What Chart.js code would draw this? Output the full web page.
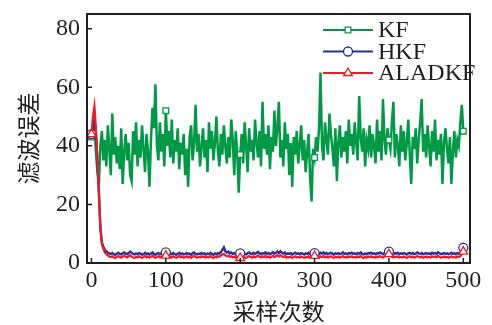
<!DOCTYPE html>
<html>
<head>
<meta charset="utf-8">
<script src="https://cdn.jsdelivr.net/npm/chart.js@4"></script>
<style>
  html, body { margin: 0; padding: 0; background: #fff; }
  #wrap { width: 492px; height: 325px; }
</style>
</head>
<body>
<div id="wrap"><canvas id="errChart"></canvas></div>
<script>
// sample index (every 2nd sample, 0..500)
const sampleIdx = Array.from({ length: 251 }, (_, i) => i * 2);
const xTicks = [0, 100, 200, 300, 400, 500];
const yTicks = [0, 20, 40, 60, 80];

const kfErr = [
  43, 44, 48, 38, 31, 27, 40, 45, 35, 42, 33, 47, 39, 30, 51, 37, 43, 34, 40, 32, 46, 27, 38, 44, 35,
  41, 30, 28, 45, 37, 48, 33, 42, 36, 47, 39, 31, 44, 38, 26, 42, 53, 46, 61, 40, 35, 48, 38, 44, 33,
  52, 40, 45, 36, 49, 34, 42, 38, 46, 32, 41, 37, 44, 30, 39, 26, 43, 47, 35, 41, 54, 38, 44, 33, 40,
  46, 36, 42, 31, 48, 39, 45, 35, 41, 50, 38, 33, 44, 37, 47, 40, 34, 43, 36, 49, 42, 30, 45, 38, 24,
  37, 44, 34, 48, 40, 31, 46, 38, 42, 35, 49, 41, 36, 45, 33, 55, 39, 44, 37, 47, 32, 43, 38, 52, 40,
  46, 55, 36, 42, 33, 48, 39, 44, 30, 41, 26, 43, 37, 45, 34, 40, 47, 35, 42, 31, 38, 44, 29, 21, 39,
  36, 43, 38, 46, 65, 40, 35, 48, 42, 37, 51, 44, 39, 33, 46, 28, 41, 47, 36, 43, 38, 45, 34, 49, 40,
  44, 37, 48, 41, 35, 57, 43, 38, 46, 33, 42, 39, 47, 36, 44, 40, 34, 49, 38, 45, 35, 56, 42, 37, 46,
  42, 39, 48, 55, 36, 44, 40, 33, 47, 38, 45, 35, 41, 49, 37, 27, 43, 39, 46, 34, 42, 48, 56, 38, 44,
  36, 47, 40, 33, 45, 38, 49, 35, 42, 37, 44, 27, 41, 46, 39, 34, 43, 27, 38, 45, 36, 42, 40, 48, 54,
  45
];

const hkfErr = [
  44, 47, 49, 44, 35, 24, 12, 7, 5.5, 4.5, 4, 3.6, 3.3, 3.1, 3.4, 3.0, 2.8, 3.2, 3.5, 3.1, 2.9, 3.3, 3.6, 3.2, 3.0,
  3.4, 3.9, 3.5, 3.1, 2.9, 3.3, 3.0, 3.4, 3.2, 2.8, 3.1, 3.5, 3.0, 3.3, 2.9, 3.2, 3.6, 3.1, 2.8, 3.2, 3.4, 3.0, 3.3, 3.1, 3.5,
  3.6, 3.2, 2.9, 3.3, 3.0, 3.4, 3.1, 2.8, 3.2, 3.5, 3.0, 3.3, 2.9, 3.1, 3.4, 3.0, 3.2, 2.8, 3.3, 3.6, 3.1, 2.9, 3.2, 3.0, 3.4,
  3.1, 3.3, 2.9, 3.2, 3.0, 3.5, 3.1, 2.8, 3.3, 3.0, 3.4, 3.2, 3.7, 4.5, 5.3, 4.0, 3.6, 3.9, 3.3, 3.6, 3.1, 3.4, 3.0, 3.3, 3.1,
  3.3, 3.0, 3.4, 3.1, 2.9, 3.3, 3.6, 3.2, 3.0, 3.5, 3.1, 3.4, 3.8, 3.3, 3.0, 3.4, 3.2, 3.6, 3.1, 3.4, 3.0, 3.3, 3.7, 3.2, 3.5,
  3.9, 3.4, 4.0, 3.5, 3.2, 3.6, 3.0, 3.3, 3.1, 3.4, 2.9, 3.2, 3.5, 3.1, 3.3, 3.0, 3.4, 3.2, 2.9, 3.3, 3.1, 3.5, 3.0, 3.2, 3.4,
  3.4, 3.1, 3.3, 3.0, 3.5, 3.2, 3.6, 3.1, 3.4, 3.0, 3.3, 3.5, 3.2, 2.9, 3.3, 3.1, 3.4, 3.0, 3.2, 3.6, 3.1, 3.3, 3.0, 3.4, 3.2,
  3.5, 3.1, 3.3, 3.0, 3.4, 3.2, 3.6, 3.1, 2.9, 3.3, 3.0, 3.4, 3.2, 3.5, 3.1, 3.3, 3.0, 3.4, 3.2, 3.6, 3.3, 3.0, 3.4, 3.7, 3.5,
  3.9, 3.6, 3.3, 3.1, 3.4, 3.2, 3.5, 3.0, 3.3, 3.1, 3.4, 3.2, 2.9, 3.3, 3.5, 3.1, 3.4, 3.0, 3.2, 3.6, 3.3, 3.1, 3.4, 3.0, 3.2,
  3.4, 3.1, 3.3, 3.0, 3.5, 3.2, 3.4, 3.1, 3.7, 3.3, 3.0, 3.2, 3.4, 3.1, 3.3, 3.0, 3.2, 3.5, 3.1, 3.3, 3.0, 3.4, 3.2, 3.5, 4.2,
  5.2
];

const aladkfErr = [
  44, 50, 53.5, 46, 36, 24, 12, 6.5, 4.8, 3.6, 3.0, 2.6, 2.2, 2.0, 2.3, 1.9, 1.7, 2.1, 2.4, 2.0, 1.8, 2.2, 2.5, 2.1, 1.9,
  2.3, 2.6, 2.2, 1.9, 1.7, 2.1, 1.9, 2.3, 2.0, 1.7, 2.0, 2.4, 1.9, 2.2, 1.8, 2.1, 2.5, 2.0, 1.7, 2.1, 2.3, 1.9, 2.2, 2.0, 2.4,
  2.5, 2.1, 1.8, 2.2, 1.9, 2.3, 2.0, 1.7, 2.1, 2.4, 1.9, 2.2, 1.8, 2.0, 2.3, 1.9, 2.1, 1.7, 2.2, 2.5, 2.0, 1.8, 2.1, 1.9, 2.3,
  2.0, 2.2, 1.8, 2.1, 1.9, 2.4, 2.0, 1.7, 2.2, 1.9, 2.3, 2.1, 2.5, 2.9, 3.1, 2.6, 2.3, 2.5, 2.1, 2.3, 1.9, 2.2, 1.8, 2.0, 1.8,
  1.7, 1.9, 2.2, 1.9, 1.7, 2.1, 2.4, 2.0, 1.8, 2.3, 1.9, 2.2, 2.6, 2.1, 1.9, 2.3, 2.0, 2.4, 1.9, 2.2, 1.8, 2.1, 2.5, 2.0, 2.3,
  2.7, 2.2, 2.6, 2.3, 2.0, 2.4, 1.8, 2.1, 1.9, 2.2, 1.7, 2.0, 2.3, 1.9, 2.1, 1.8, 2.2, 2.0, 1.7, 2.1, 1.9, 2.3, 1.8, 2.0, 2.2,
  2.4, 1.9, 2.1, 1.8, 2.3, 2.0, 2.4, 1.9, 2.2, 1.8, 2.1, 2.3, 2.0, 1.7, 2.1, 1.9, 2.2, 1.8, 2.0, 2.4, 1.9, 2.1, 1.8, 2.2, 2.0,
  2.3, 1.9, 2.1, 1.8, 2.2, 2.0, 2.4, 1.9, 1.7, 2.1, 1.8, 2.2, 2.0, 2.3, 1.9, 2.1, 1.8, 2.2, 2.0, 2.4, 2.1, 1.8, 2.2, 2.5, 2.3,
  3.0, 2.4, 2.1, 1.9, 2.2, 2.0, 2.3, 1.8, 2.1, 1.9, 2.2, 2.0, 1.7, 2.1, 2.3, 1.9, 2.2, 1.8, 2.0, 2.4, 2.1, 1.9, 2.2, 1.8, 2.0,
  2.2, 1.9, 2.1, 1.8, 2.3, 2.0, 2.2, 1.9, 2.5, 2.1, 1.8, 2.0, 2.2, 1.9, 2.1, 1.8, 2.0, 2.3, 1.9, 2.1, 1.8, 2.2, 2.0, 2.3, 3.0,
  3.9
];

const seriesNames = ["KF", "HKF", "ALADKF"];
const seriesColors = ["#009a46", "#2e3192", "#ed1c24"];
const markerStyles = ["rect", "circle", "triangle"];
const markerSizes = [4, 4.5, 5];

const serifFont = "'Liberation Serif', 'DejaVu Serif', serif";
const cjkFont = "'Noto Sans CJK SC', sans-serif";
const inkColor = "#231f20";

function makeSet(i, values, width) {
  return {
    label: seriesNames[i],
    data: values.map((v, k) => ({ x: sampleIdx[k], y: v })),
    order: 2 - i, // ALADKF on top
    borderColor: seriesColors[i],
    backgroundColor: "#ffffff",
    borderWidth: width,
    pointStyle: markerStyles[i],
    pointRadius: ctx => (ctx.index % 50 === 0 ? markerSizes[i] : 0),
    pointBorderWidth: 1.3,
    pointBorderColor: seriesColors[i],
    pointBackgroundColor: "#ffffff",
    tension: 0
  };
}

// box, inward ticks and legend
const framePlugin = {
  id: "frame",
  afterDraw(chart) {
    const { ctx, chartArea: a, scales } = chart;
    ctx.save();
    ctx.strokeStyle = inkColor;
    ctx.lineWidth = 2;
    ctx.strokeRect(a.left, a.top, a.right - a.left, a.bottom - a.top);
    ctx.lineWidth = 1.5;
    ctx.beginPath();
    xTicks.forEach(v => {
      const px = scales.x.getPixelForValue(v);
      ctx.moveTo(px, a.bottom);
      ctx.lineTo(px, a.bottom - 5);
    });
    yTicks.forEach(v => {
      const py = scales.y.getPixelForValue(v);
      ctx.moveTo(a.left, py);
      ctx.lineTo(a.left + 5, py);
    });
    ctx.stroke();

    // legend
    const lx0 = a.left + 236, lx1 = a.left + 286;
    ctx.font = "24px " + serifFont;
    ctx.textBaseline = "middle";
    seriesNames.forEach((name, i) => {
      const ly = a.top + 16 + i * 21.5;
      ctx.strokeStyle = seriesColors[i];
      ctx.lineWidth = 2;
      ctx.beginPath();
      ctx.moveTo(lx0, ly);
      ctx.lineTo(lx1, ly);
      ctx.stroke();
      const opts = { pointStyle: markerStyles[i], radius: markerSizes[i], borderWidth: 1.3 };
      ctx.fillStyle = "#ffffff";
      ctx.lineWidth = 1.3;
      Chart.helpers.drawPoint(ctx, opts, (lx0 + lx1) / 2, ly);
      ctx.fillStyle = inkColor;
      ctx.fillText(name, lx1 + 5, ly + 1);
    });
    ctx.restore();
  }
};

new Chart(document.getElementById("errChart"), {
  type: "line",
  data: {
    datasets: [
      makeSet(0, kfErr, 2.5),
      makeSet(1, hkfErr, 2.4),
      makeSet(2, aladkfErr, 2.2)
    ]
  },
  options: {
    responsive: true,
    maintainAspectRatio: false,
    animation: false,
    layout: { padding: { top: 14, right: 22, left: 0, bottom: 0 } },
    plugins: { legend: { display: false }, tooltip: { enabled: false } },
    scales: {
      x: {
        type: "linear",
        min: -6,
        max: 509,
        grid: { display: false, drawTicks: false },
        border: { display: false },
        afterBuildTicks: s => { s.ticks = xTicks.map(v => ({ value: v })); },
        afterFit: s => { s.height = 62; s.paddingLeft = 0; s.paddingRight = 0; },
        ticks: { color: inkColor, font: { family: serifFont, size: 24 }, padding: 3, maxRotation: 0 },
        title: { display: true, text: "采样次数", color: inkColor, font: { family: cjkFont, size: 23 }, padding: { top: 0, bottom: 0 } }
      },
      y: {
        min: 0,
        max: 85,
        grid: { display: false, drawTicks: false },
        border: { display: false },
        afterBuildTicks: s => { s.ticks = yTicks.map(v => ({ value: v })); },
        afterFit: s => { s.width = 87; s.paddingTop = 0; s.paddingBottom = 0; },
        ticks: { color: inkColor, font: { family: serifFont, size: 24 }, padding: 7 },
        title: { display: true, text: "滤波误差", color: inkColor, font: { family: cjkFont, size: 23 }, padding: { top: 14, bottom: 0 } }
      }
    }
  },
  plugins: [framePlugin]
});
</script>
</body>
</html>
